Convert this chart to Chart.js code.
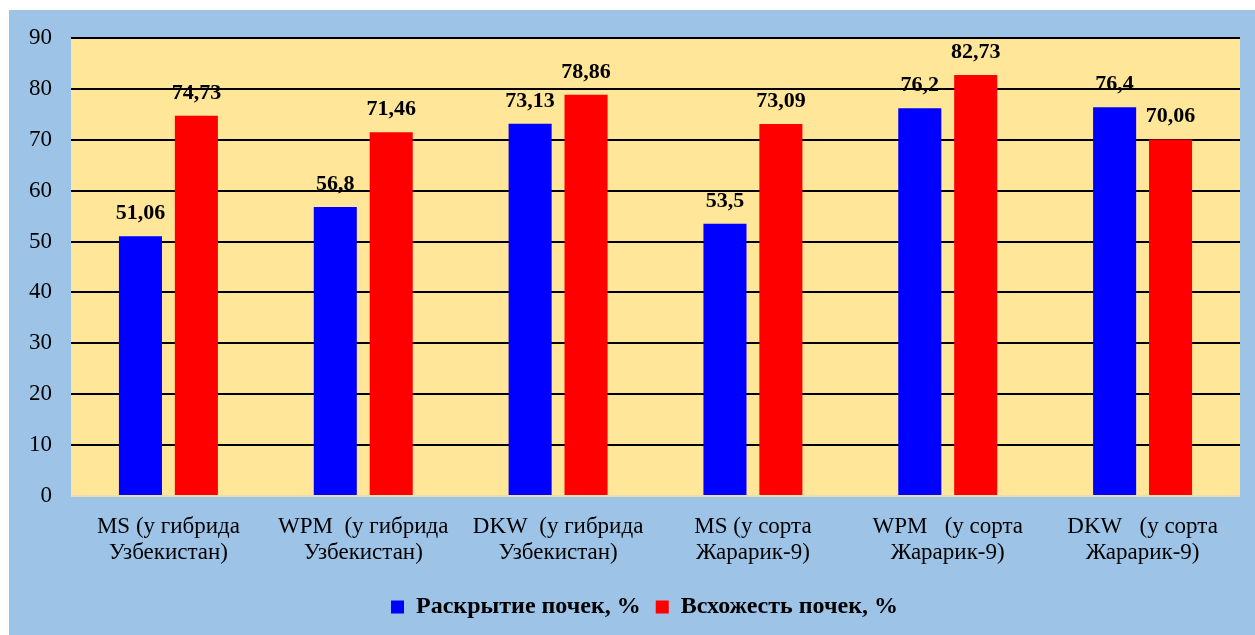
<!DOCTYPE html>
<html>
<head>
<meta charset="utf-8">
<script src="https://cdn.jsdelivr.net/npm/chart.js@4/dist/chart.umd.min.js"></script>
<style>
    body { margin: 0; background: #ffffff; }
    #wrap { position: absolute; left: 9px; top: 10px; width: 1246px; height: 625px; background: #9DC3E6; }
</style>
</head>
<body>
<div id="wrap"><canvas id="chart"></canvas></div>
<script>
const categories = [
    ["MS (у гибрида", "Узбекистан)"],
    ["WPM  (у гибрида", "Узбекистан)"],
    ["DKW  (у гибрида", "Узбекистан)"],
    ["MS (у сорта", "Жарарик-9)"],
    ["WPM   (у сорта", "Жарарик-9)"],
    ["DKW   (у сорта", "Жарарик-9)"]
];
const openingValues = [51.06, 56.8, 73.13, 53.5, 76.2, 76.4];
const emergenceValues = [74.73, 71.46, 78.86, 73.09, 82.73, 70.06];
const seriesNames = ["Раскрытие почек, %", "Всхожесть почек, %"];
const yTicks = [0, 10, 20, 30, 40, 50, 60, 70, 80, 90];

const serif = "'Liberation Serif', 'Times New Roman', serif";

// yellow plot area
const plotBg = {
    id: "plotBg",
    beforeDraw(chart) {
        const a = chart.chartArea;
        const ctx = chart.ctx;
        ctx.save();
        ctx.fillStyle = "#FFE699";
        ctx.fillRect(a.left, a.top, a.right - a.left, a.bottom - a.top);
        ctx.restore();
    }
};

// value labels above bars
const valueLabels = {
    id: "valueLabels",
    afterDatasetsDraw(chart) {
        const ctx = chart.ctx;
        ctx.save();
        ctx.font = "bold 22px " + serif;
        ctx.fillStyle = "#000";
        ctx.textAlign = "center";
        ctx.textBaseline = "alphabetic";
        chart.data.datasets.forEach((ds, i) => {
            chart.getDatasetMeta(i).data.forEach((bar, j) => {
                const txt = String(ds.data[j]).replace(".", ",");
                ctx.fillText(txt, bar.x, bar.y - 17);
            });
        });
        ctx.restore();
    }
};

// legend sits a bit right of centre in the original
const legendShift = {
    id: "legendShift",
    afterLayout(chart) {
        chart.legend.left += 40;
    }
};

function initChart() {
    const ctx = document.getElementById("chart").getContext("2d");
    new Chart(ctx, {
        type: "bar",
        data: {
            labels: categories,
            datasets: [
                { label: seriesNames[0], data: openingValues, backgroundColor: "#0000FF" },
                { label: seriesNames[1], data: emergenceValues, backgroundColor: "#FF0000" }
            ]
        },
        options: {
            responsive: true,
            maintainAspectRatio: false,
            animation: false,
            categoryPercentage: 0.574,
            barPercentage: 0.77,
            layout: { padding: { top: 28, right: 15, left: 0, bottom: 6 } },
            plugins: {
                tooltip: { enabled: false },
                legend: {
                    position: "bottom",
                    labels: {
                        color: "#000",
                        font: { family: serif, size: 24, weight: "bold" },
                        boxWidth: 13,
                        boxHeight: 13,
                        padding: 15
                    }
                }
            },
            scales: {
                x: {
                    grid: { display: false },
                    border: { display: false },
                    ticks: {
                        color: "#000",
                        font: { family: serif, size: 23, lineHeight: 1.13 },
                        padding: 10,
                        maxRotation: 0,
                        autoSkip: false
                    },
                    afterFit: (s) => { s.height = 84; }
                },
                y: {
                    min: 0,
                    max: 90,
                    afterBuildTicks: (s) => { s.ticks = yTicks.map(v => ({ value: v })); },
                    grid: {
                        color: (c) => c.tick && c.tick.value === 0 ? "#E8DDB5" : "#000",
                        lineWidth: 2,
                        drawTicks: false
                    },
                    border: { display: false },
                    ticks: {
                        color: "#000",
                        font: { family: serif, size: 23 },
                        padding: 19
                    },
                    afterFit: (s) => {
                        s.width = 62;
                        s.paddingTop = 0;
                        s.paddingBottom = 0;
                    }
                }
            }
        },
        plugins: [plotBg, valueLabels, legendShift]
    });
}

initChart();
</script>
</body>
</html>
